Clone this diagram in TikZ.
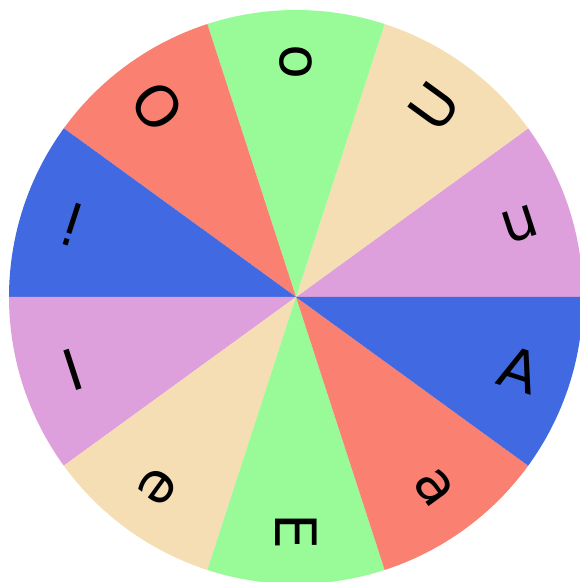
\documentclass[tikz,border=0pt]{standalone}
\usepackage{fontspec}
\setsansfont{DejaVu Sans}
\usepackage{tikz}
\usetikzlibrary{calc}

\definecolor{wplum}{HTML}{DDA0DD}
\definecolor{wwheat}{HTML}{F5DEB3}
\definecolor{wgreen}{HTML}{98FB98}
\definecolor{wsalmon}{HTML}{FA8072}
\definecolor{wblue}{HTML}{4169E1}

\tikzset{letter/.style={font=\sffamily\fontsize{57}{60}\selectfont, inner sep=0pt}}

\begin{document}
\begin{tikzpicture}[x=1pt, y=1pt]
    \useasboundingbox (0,0) rectangle (580,582);
    \coordinate (c) at (296,285);
    \foreach \a/\col/\txt [count=\i] in {0/wplum/u, 36/wwheat/U, 72/wgreen/o, 108/wsalmon/O, 144/wblue/i,
        180/wplum/I, 216/wwheat/e, 252/wgreen/E, 288/wsalmon/a, 324/wblue/A} {
        \fill[\col] (c) -- ++(\a:287) arc[start angle=\a, delta angle=36, radius=287] -- cycle;
        \node[letter, rotate=\a+18] (l\i) at ($(c)+(\a+18:235)$) {\txt};
    }
\end{tikzpicture}
\end{document}
